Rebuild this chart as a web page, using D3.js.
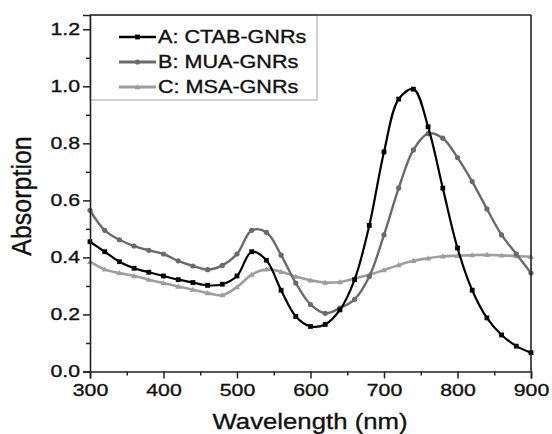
<!DOCTYPE html>
<html><head><meta charset="utf-8">
<script src="https://cdn.jsdelivr.net/npm/d3@7"></script>
<style>
html,body{margin:0;padding:0;background:#fff;}
text{font-family:"Liberation Sans",Arial,sans-serif;fill:#111;stroke:#111;stroke-width:0.35px;}
</style></head>
<body><svg id="c" width="552" height="434"></svg>
<script>
const wavelengths = [300,320,340,360,380,400,420,440,460,480,500,520,540,560,580,600,620,640,660,680,700,720,740,760,780,800,820,840,860,880,900];
const seriesA = [0.455,0.42,0.385,0.362,0.348,0.335,0.322,0.312,0.302,0.306,0.335,0.42,0.39,0.285,0.193,0.158,0.165,0.216,0.322,0.512,0.77,0.955,0.99,0.858,0.643,0.433,0.285,0.188,0.128,0.089,0.066];
const seriesB = [0.565,0.495,0.462,0.44,0.425,0.412,0.388,0.37,0.357,0.372,0.412,0.495,0.488,0.408,0.31,0.235,0.204,0.222,0.253,0.333,0.479,0.643,0.777,0.834,0.818,0.75,0.666,0.57,0.479,0.412,0.345];
const seriesC = [0.385,0.358,0.345,0.335,0.322,0.31,0.298,0.287,0.275,0.268,0.296,0.34,0.358,0.35,0.333,0.32,0.312,0.314,0.326,0.339,0.356,0.373,0.388,0.397,0.404,0.406,0.408,0.409,0.407,0.405,0.402];
const seriesNames = ["A: CTAB-GNRs","B: MUA-GNRs","C: MSA-GNRs"];
const xTicks = [300,400,500,600,700,800,900];
const yTicks = [0.0,0.2,0.4,0.6,0.8,1.0,1.2];

const svg = d3.select("#c");
const L=90,R=531,T=15,B=371.5;
const x = d3.scaleLinear().domain([300,900]).range([L,R]);
const y = d3.scaleLinear().domain([0,1.25]).range([B,T]);

const styles = [
  {color:"#000000", marker:"square", data:seriesA, w:2.2},
  {color:"#6a6a6a", marker:"circle", data:seriesB, w:2.4},
  {color:"#9e9e9e", marker:"triangle", data:seriesC, w:2.6}
];

svg.append("rect").attr("x",L).attr("y",T).attr("width",227).attr("height",85)
  .attr("fill","none").attr("stroke","#b4b4b4").attr("stroke-width",1.2);

const line = d3.line().x((d,i)=>x(wavelengths[i])).y(d=>y(d)).curve(d3.curveCatmullRom.alpha(0.5));

function marker(g, type, cx, cy, color){
  if(type==="square") g.append("rect").attr("x",cx-2.4).attr("y",cy-2.4).attr("width",4.8).attr("height",4.8).attr("fill",color);
  else if(type==="circle") g.append("circle").attr("cx",cx).attr("cy",cy).attr("r",2.6).attr("fill",color);
  else g.append("path").attr("d",`M${cx},${cy-3}L${cx+3},${cy+2.2}L${cx-3},${cy+2.2}Z`).attr("fill",color);
}

[2,1,0].forEach(k=>{
  const s=styles[k];
  const g=svg.append("g");
  g.append("path").attr("d",line(s.data)).attr("fill","none").attr("stroke",s.color).attr("stroke-width",s.w);
  s.data.forEach((v,i)=>marker(g,s.marker,x(wavelengths[i]),y(v),s.color));
});

const xAxis = svg.append("g").attr("transform",`translate(0,${B})`)
  .call(d3.axisBottom(x).tickValues(xTicks).tickSize(7).tickPadding(6).tickFormat(d3.format("d")));
const xMinor = svg.append("g").attr("transform",`translate(0,${B})`)
  .call(d3.axisBottom(x).tickValues([350,450,550,650,750,850]).tickSize(4).tickFormat(""));
const yAxis = svg.append("g").attr("transform",`translate(${L},0)`)
  .call(d3.axisLeft(y).tickValues(yTicks).tickSize(7).tickPadding(6).tickFormat(d3.format(".1f")));
const yMinor = svg.append("g").attr("transform",`translate(${L},0)`)
  .call(d3.axisLeft(y).tickValues([0.1,0.3,0.5,0.7,0.9,1.1]).tickSize(4).tickFormat(""));
[xAxis,xMinor,yAxis,yMinor].forEach(a=>{
  a.selectAll(".domain").attr("stroke","#222").attr("stroke-width",1.6);
  a.selectAll(".tick line").attr("stroke","#222").attr("stroke-width",1.5);
});
xMinor.select(".domain").remove(); yMinor.select(".domain").remove();
xAxis.selectAll(".tick text").attr("font-size",17).attr("fill","#111")
  .attr("transform","scale(1.25,1)").attr("y",12).attr("dy","0.71em");
yAxis.selectAll(".tick text").attr("font-size",17).attr("fill","#111")
  .attr("x",-10/1.25).attr("transform","scale(1.25,1)");
svg.append("line").attr("x1",L).attr("x2",R).attr("y1",T).attr("y2",T).attr("stroke","#222").attr("stroke-width",1.6);
svg.append("line").attr("x1",R).attr("x2",R).attr("y1",T).attr("y2",B).attr("stroke","#222").attr("stroke-width",1.6);

const legY=[37,62,87];
styles.forEach((s,k)=>{
  const g=svg.append("g");
  g.append("line").attr("x1",119).attr("x2",156).attr("y1",legY[k]).attr("y2",legY[k]).attr("stroke",s.color).attr("stroke-width",s.w+0.4);
  marker(g,s.marker,137.5,legY[k],s.color);
  g.append("text").attr("transform",`translate(158,${legY[k]}) scale(1.2,1)`).attr("font-size",18)
    .attr("dy","0.36em").text(seriesNames[k]);
});

svg.append("text").attr("transform",`translate(310,429) scale(1.12,1)`).attr("text-anchor","middle")
  .attr("font-size",23).text("Wavelength (nm)");
svg.append("text").attr("transform",`translate(31,196) rotate(-90) scale(1,1.1)`).attr("text-anchor","middle")
  .attr("font-size",25).text("Absorption");
</script></body></html>
